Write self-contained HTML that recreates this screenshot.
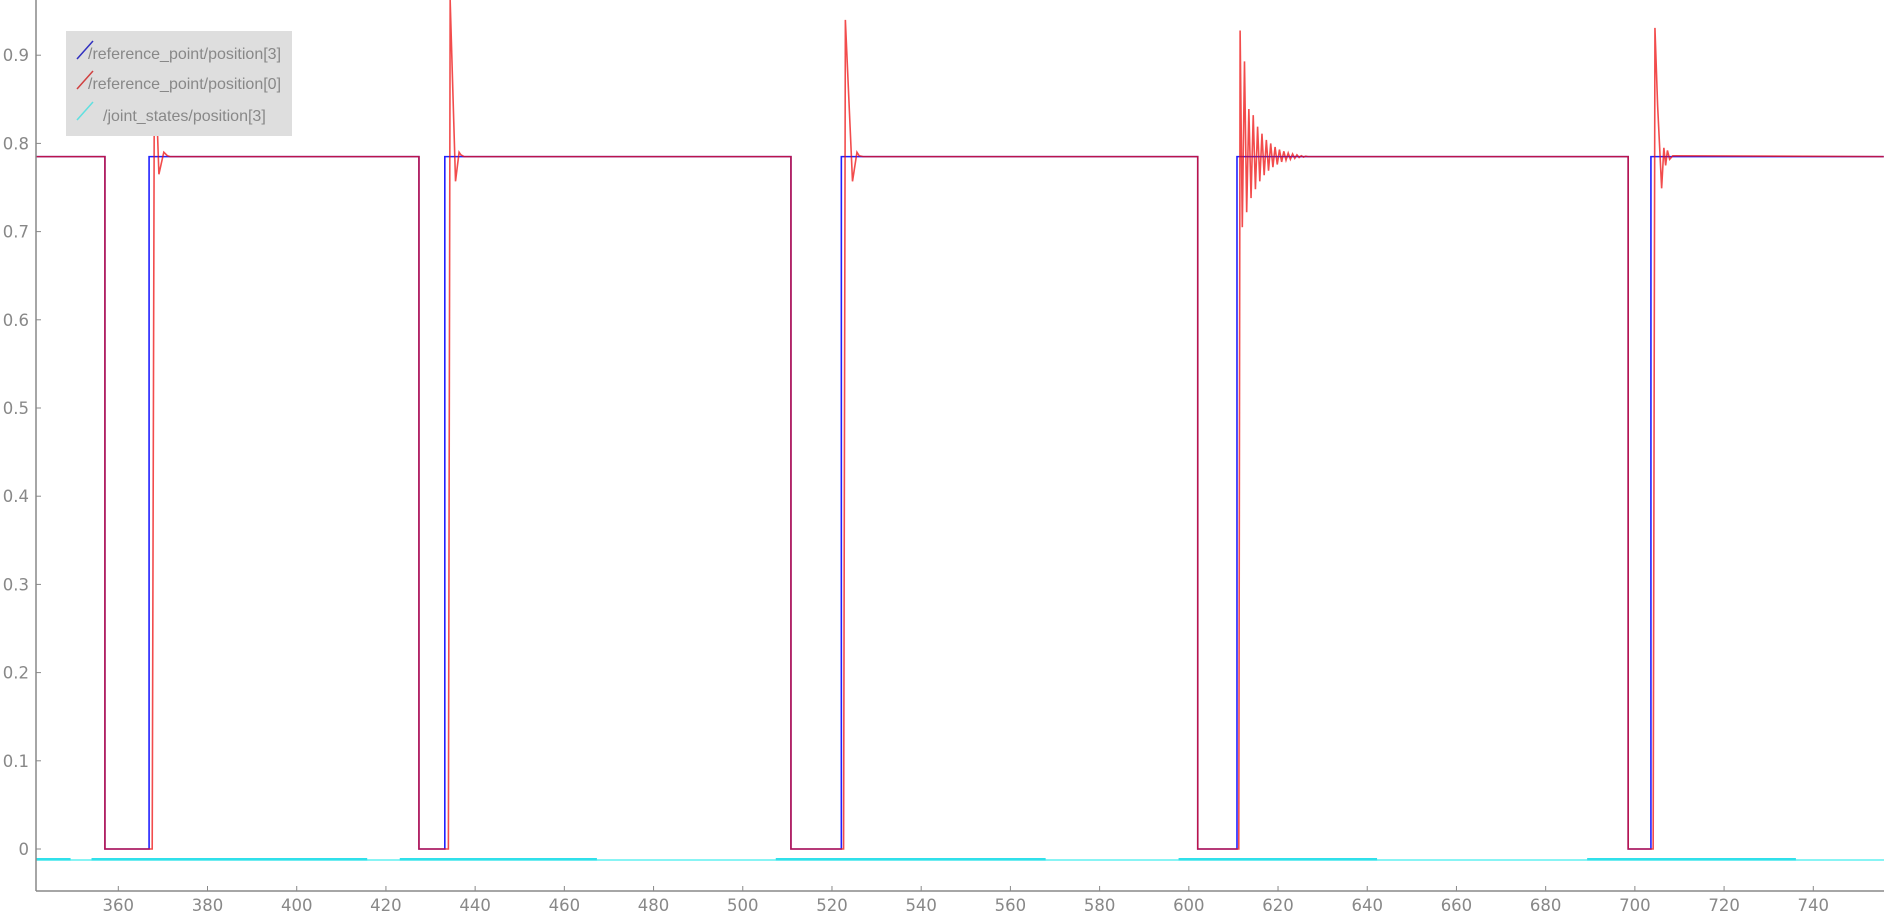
<!DOCTYPE html>
<html><head><meta charset="utf-8">
<style>
html,body{margin:0;padding:0;background:#fff;}
svg{display:block;font-family:"DejaVu Sans","Liberation Sans",sans-serif;}
.leg{font-family:"Liberation Sans","DejaVu Sans",sans-serif;}
</style></head>
<body>
<svg id="chart" width="1884" height="912" viewBox="0 0 1884 912" xmlns="http://www.w3.org/2000/svg">
<g id="cyan"></g>
<g id="blue"></g>
<g id="red"></g>
<g id="axes"></g>
<g>
  <rect x="66" y="31" width="226" height="105" fill="#dedede"/>
  <g>
    <line x1="77" y1="59" x2="93" y2="41" stroke="#3030c0" stroke-width="1.5"/>
    <text class="leg" x="88" y="59" font-size="16" fill="#888">/reference_point/position[3]</text>
  </g>
  <g>
    <line x1="77" y1="89" x2="93" y2="71" stroke="#d04040" stroke-width="1.5"/>
    <text class="leg" x="88" y="89" font-size="16" fill="#888">/reference_point/position[0]</text>
  </g>
  <g>
    <line x1="77" y1="120" x2="93" y2="102" stroke="#60e0e0" stroke-width="1.5"/>
    <text class="leg" x="103" y="121" font-size="16" fill="#888">/joint_states/position[3]</text>
  </g>
</g>
</svg>
<script>
// ---- data ----
const xTicks = [360,380,400,420,440,460,480,500,520,540,560,580,600,620,640,660,680,700,720,740];
const yTicks = [0,0.1,0.2,0.3,0.4,0.5,0.6,0.7,0.8,0.9];
const level = 0.785;
const dropTimes = [357.0, 427.4, 510.8, 602.0, 698.5];
const blueRiseTimes = [366.9, 433.2, 522.1, 610.8, 703.6];
const redT = [
 [341.6,357.0,357.0,367.6,368.1,369.1,370.2,371.0,371.6],
 [371.6,427.4,427.4,434.0,434.4,435.6,436.4,436.8,437.5],
 [437.5,510.8,510.8,522.6,523.0,524.6,525.6,526.1,527.0],
 [527.0,602.0,602.0,611.2,611.5],
 [704.1,704.5,705.1,706.0,706.5,706.9,707.3,707.8,708.5,755.8]
];
const redV = [
 [0.785,0.785,0,0,0.915,0.765,0.79,0.786,0.785],
 [0.785,0.785,0,0,0.97,0.757,0.79,0.787,0.785],
 [0.785,0.785,0,0,0.94,0.757,0.79,0.786,0.785],
 [0.785,0.785,0,0,0.928],
 [0,0.931,0.843,0.749,0.795,0.775,0.792,0.782,0.786,0.785]
];
// ringing after event 4
const ringStart = 611.5;
const ringPeaks = [0.928,0.893,0.839,0.832,0.819,0.811,0.804,0.800,0.796,0.793,0.791,0.789,0.788,0.787,0.786,0.7855];
const ringTroughs = [0.705,0.722,0.738,0.748,0.757,0.764,0.769,0.773,0.776,0.779,0.781,0.782,0.783,0.784,0.7845,0.785];
const ringPeriod = 0.98;
const cyanLevel = -0.0125;
const noiseStart = [341.6,354.0,423.1,507.4,597.7,689.3];
const noiseEnd   = [349.3,415.8,467.3,567.9,642.2,736.1];

// ---- axes ----
const X0=118.3, XS=4.4605, Y0=849, YS=882;
const xs = t => X0 + XS*(t-360);
const ys = v => Y0 - YS*v;
const NS='http://www.w3.org/2000/svg';
function mk(tag, attrs, parent){const e=document.createElementNS(NS,tag);for(const k in attrs)e.setAttribute(k,attrs[k]);parent.appendChild(e);return e;}
const axes=document.getElementById('axes');
const yAxis=mk('line',{x1:36,y1:0,x2:36,y2:891,stroke:'#888','stroke-width':1.5},axes);


const xAxis=mk('line',{x1:36,y1:891,x2:1884,y2:891,stroke:'#888','stroke-width':1.5},axes);


xTicks.forEach(t=>{
  const x=xs(t);
  mk('line',{x1:x,y1:886,x2:x,y2:891,stroke:'#888'},axes);
  const tx=mk('text',{x:x,y:911,'font-size':16.5,fill:'#888','text-anchor':'middle'},axes);
  tx.textContent=t;
  
  
});
yTicks.forEach(v=>{
  const y=ys(v);
  mk('line',{x1:36,y1:y,x2:41,y2:y,stroke:'#888'},axes);
  const tx=mk('text',{x:29,y:y+6,'font-size':16.5,fill:'#888','text-anchor':'end'},axes);
  tx.textContent=v;
  
  
});

// ---- cyan ----
const cg=document.getElementById('cyan');
const cl=mk('line',{x1:xs(341.6),y1:ys(cyanLevel),x2:1884,y2:ys(cyanLevel),stroke:'#60f0f0','stroke-width':1.5},cg);


noiseStart.forEach((s,i)=>{
  const r=mk('line',{x1:xs(s),y1:ys(cyanLevel)-0.8,x2:xs(noiseEnd[i]),y2:ys(cyanLevel)-0.8,stroke:'#30e0ea','stroke-width':2.5},cg);
  
  
});

// ---- blue ----
let bp=[[341.6,level]];
dropTimes.forEach((d,i)=>{bp.push([d,level],[d,0],[blueRiseTimes[i],0],[blueRiseTimes[i],level]);});
bp.push([755.8,level]);
const bl=mk('polyline',{points:bp.map(p=>xs(p[0])+','+ys(p[1])).join(' '),fill:'none',stroke:'#2020ff','stroke-width':1.6},document.getElementById('blue'));



// ---- red ----
let rp=[];
for(let k=0;k<4;k++) redT[k].forEach((t,i)=>rp.push([t,redV[k][i]]));
ringPeaks.forEach((p,i)=>{
  const t=ringStart+i*ringPeriod;
  rp.push([t,p]); rp.push([t+ringPeriod/2,ringTroughs[i]]);
});
rp.push([ringStart+ringPeaks.length*ringPeriod,level]);
rp.push([dropTimes[4],level],[dropTimes[4],0]);
redT[4].forEach((t,i)=>rp.push([t,redV[4][i]]));
const rl=mk('polyline',{points:rp.map(p=>xs(p[0])+','+Math.max(0,ys(p[1]))).join(' '),fill:'none',stroke:'#ee1010','stroke-width':1.6,'stroke-opacity':0.75},document.getElementById('red'));


</script>
</body></html>
